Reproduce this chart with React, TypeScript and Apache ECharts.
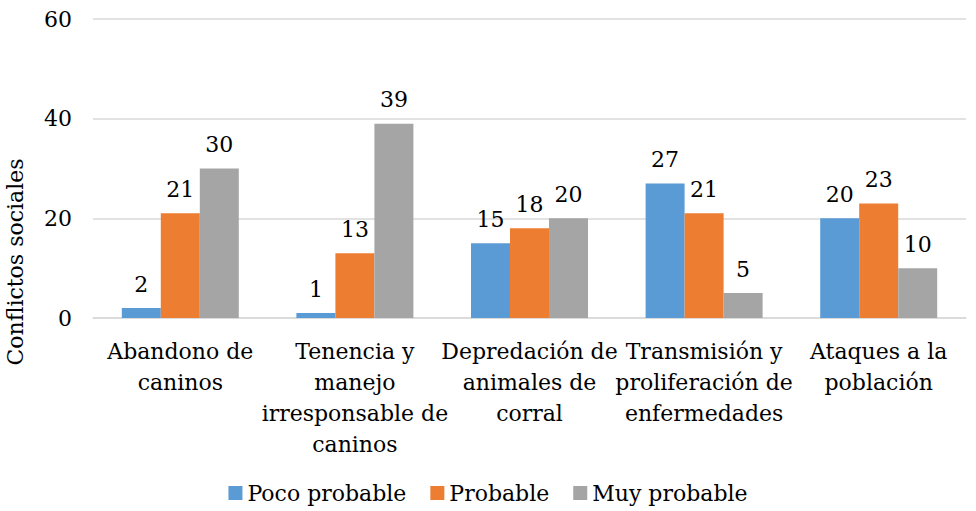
import React, { useEffect, useRef } from "react";
import * as echarts from "echarts";

const categories = [
  "Abandono de\ncaninos",
  "Tenencia y\nmanejo\nirresponsable de\ncaninos",
  "Depredación de\nanimales de\ncorral",
  "Transmisión y\nproliferación de\nenfermedades",
  "Ataques a la\npoblación",
];
const seriesNames = ["Poco probable", "Probable", "Muy probable"];
const pocoProbable = [2, 1, 15, 27, 20];
const probable = [21, 13, 18, 21, 23];
const muyProbable = [30, 39, 20, 5, 10];
const colors = ["#5B9BD5", "#ED7D31", "#A5A5A5"];
const yAxisTitle = "Conflictos sociales";

const FONT = "DejaVu Serif";

export default function App() {
  const ref = useRef<HTMLDivElement>(null);
  useEffect(() => {
    document.body.style.margin = "0";
    if (!ref.current) return;
    const chart = echarts.init(ref.current, undefined, { renderer: "svg" });
    const values = [pocoProbable, probable, muyProbable];
    const txt = { fontFamily: FONT, fontSize: 22, color: "#000" };
    chart.setOption({
      animation: false,
      textStyle: { fontFamily: FONT },
      grid: { left: 93, right: 10, top: 19, bottom: 193, containLabel: false },
      legend: {
        bottom: 2,
        left: "center",
        itemWidth: 14,
        itemHeight: 14,
        itemGap: 24,
        icon: "rect",
        textStyle: txt,
        data: seriesNames,
      },
      xAxis: {
        type: "category",
        data: categories,
        axisLine: { lineStyle: { color: "#D9D9D9", width: 1.5 } },
        axisTick: { show: false },
        axisLabel: { ...txt, interval: 0, margin: 18, lineHeight: 31 },
      },
      yAxis: {
        type: "value",
        min: 0,
        max: 60,
        interval: 20,
        axisLine: { show: false },
        axisTick: { show: false },
        splitLine: { lineStyle: { color: "#D9D9D9", width: 1.5 } },
        axisLabel: { ...txt, margin: 21 },
      },
      graphic: [
        {
          type: "text",
          x: 4,
          y: 262,
          rotation: Math.PI / 2,
          style: {
            text: yAxisTitle,
            fontFamily: FONT,
            fontSize: 22,
            fill: "#000",
            align: "center",
            verticalAlign: "top",
          },
        },
      ],
      series: seriesNames.map((name, i) => ({
        name,
        type: "bar",
        data: values[i],
        barWidth: 39,
        barGap: "0%",
        itemStyle: { color: colors[i] },
        label: { ...txt, show: true, position: "top", distance: 13 },
      })),
    });
    return () => chart.dispose();
  }, []);
  return <div ref={ref} style={{ width: 976, height: 511 }} />;
}
